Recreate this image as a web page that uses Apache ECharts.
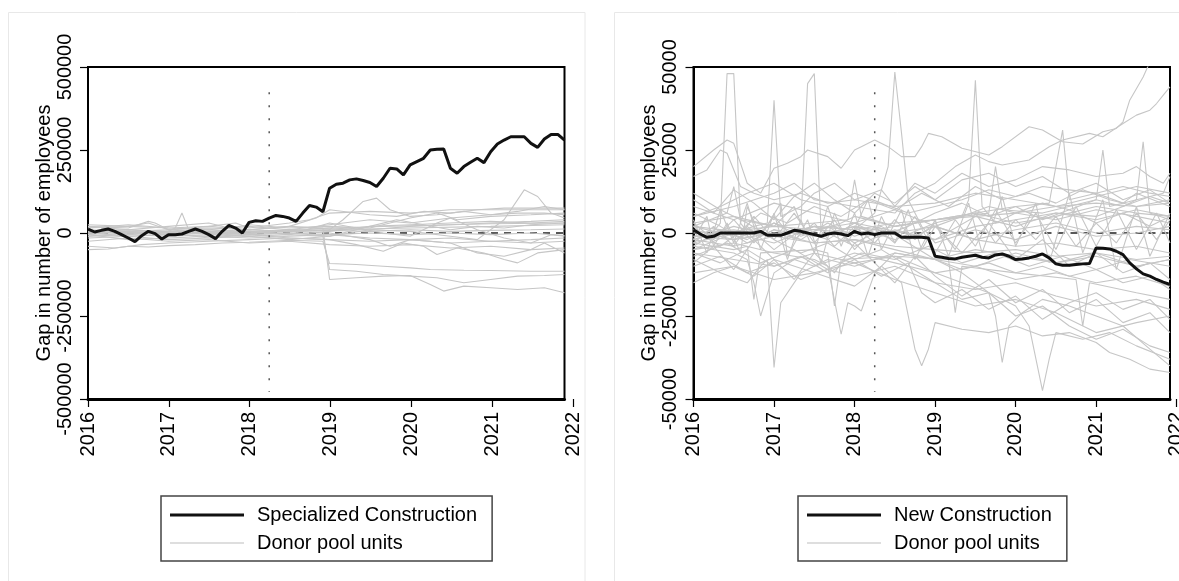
<!DOCTYPE html>
<html>
<head>
<meta charset="utf-8">
<script src="https://cdn.jsdelivr.net/npm/echarts@6/dist/echarts.min.js"></script>
<style>
html,body{margin:0;padding:0;background:#fff;}
#chart{width:1179px;height:581px;}
</style>
</head>
<body>
<div id="chart"></div>
<script>
// ---------- DATA ----------
const xTicks = [2016, 2017, 2018, 2019, 2020, 2021, 2022];
const yTicksLeft = [-500000, -250000, 0, 250000, 500000];
const yTicksRight = [-50000, -25000, 0, 25000, 50000];
const treatmentYear = 2018.25;
const leftTitle = 'Specialized Construction';
const rightTitle = 'New Construction';
const donorName = 'Donor pool units';
const yName = 'Gap in number of employees';

// monthly gaps, Jan 2016 .. Dec 2021
const specializedGap = [12000,3000,8000,12000,5000,-5000,-15000,-26000,-8000,5000,-2000,-18000,
  -5000,-5000,-3000,5000,12000,5000,-5000,-17000,5000,23000,15000,0,
  32000,37000,35000,45000,53000,50000,45000,35000,60000,83000,78000,64000,
  135000,147000,150000,160000,163000,158000,152000,140000,165000,195000,193000,175000,
  205000,215000,225000,250000,252000,253000,195000,180000,200000,213000,225000,212000,
  245000,268000,280000,290000,290000,290000,270000,258000,283000,297000,297000,280000];

const newConstructionGap = [1000,-300,-1300,-1000,0,0,0,0,0,0,500,-700,
  -700,-700,0,800,500,0,-500,-1000,-300,0,-300,-800,
  500,-300,0,-500,0,0,0,-1300,-1300,-1300,-1300,-1500,
  -7000,-7300,-7700,-7800,-7300,-7000,-6700,-7300,-7500,-6600,-6300,-7000,
  -8000,-7800,-7500,-7000,-6300,-7500,-9300,-9700,-9700,-9500,-9300,-9200,
  -4500,-4600,-4800,-5500,-6500,-9000,-10800,-12300,-13000,-14000,-14800,-15500];

// donor pool gaps: [month index, gap]
const leftDonors = [
  [[0,-40000],[4,-45000],[8,-35000],[12,-30000],[18,-25000],[24,-20000],[30,-15000],[36,-20000],[42,-25000],[48,-20000],[54,-30000],[60,-25000],[66,-30000],[71,-25000]],
  [[0,-50000],[3,-48000],[6,-40000],[9,-42000],[12,-38000],[16,-35000],[20,-30000],[24,-28000],[30,-22000],[35,-25000],[36,-92000],[40,-95000],[44,-100000],[48,-105000],[51,-110000],[56,-112000],[60,-113000],[66,-115000],[71,-115000]],
  [[0,20000],[6,15000],[9,35000],[10,30000],[12,10000],[18,15000],[24,10000],[30,20000],[35,15000],[36,-140000],[40,-135000],[44,-130000],[48,-128000],[51,-155000],[53,-175000],[56,-160000],[60,-165000],[64,-170000],[68,-165000],[71,-180000]],
  [[0,10000],[6,5000],[12,-5000],[18,0],[24,-10000],[30,-5000],[35,-10000],[36,-110000],[40,-115000],[44,-125000],[48,-130000],[52,-135000],[56,-150000],[60,-140000],[64,-130000],[68,-128000],[71,-125000]],
  [[0,5000],[6,0],[12,5000],[13,15000],[14,60000],[15,10000],[18,0],[24,5000],[30,10000],[36,5000],[42,20000],[48,25000],[54,30000],[60,35000],[66,30000],[71,35000]],
  [[0,15000],[6,20000],[9,30000],[12,10000],[18,20000],[22,30000],[24,15000],[30,30000],[33,40000],[36,60000],[42,65000],[48,60000],[54,70000],[60,70000],[66,70000],[71,70000]],
  [[0,25000],[6,20000],[12,15000],[18,20000],[24,10000],[30,20000],[34,45000],[36,70000],[42,55000],[46,50000],[50,65000],[54,60000],[58,70000],[62,75000],[66,75000],[71,75000]],
  [[0,-10000],[6,-5000],[12,-10000],[18,-5000],[24,0],[30,5000],[36,10000],[38,40000],[41,95000],[43,105000],[45,70000],[48,50000],[52,55000],[56,65000],[60,55000],[64,60000],[68,60000],[71,55000]],
  [[0,0],[6,-10000],[12,-5000],[18,-10000],[24,-5000],[30,0],[36,-10000],[42,10000],[48,5000],[54,-10000],[58,-20000],[62,40000],[65,130000],[67,110000],[69,60000],[71,45000]],
  [[0,-5000],[6,5000],[12,0],[18,-15000],[24,-5000],[30,-15000],[36,-20000],[40,-35000],[44,-55000],[47,-30000],[50,-40000],[52,-65000],[55,-45000],[59,-60000],[62,-80000],[64,-90000],[67,-60000],[71,-50000]],
  [[0,5000],[6,10000],[12,0],[18,5000],[24,0],[30,5000],[36,0],[42,-20000],[45,-40000],[48,-20000],[54,-30000],[58,-60000],[62,-70000],[66,-50000],[68,-30000],[71,-60000]],
  [[0,-15000],[6,-10000],[12,-20000],[18,-15000],[24,-10000],[30,-20000],[36,-10000],[42,20000],[46,40000],[50,25000],[54,10000],[58,20000],[62,15000],[66,25000],[71,30000]],
  [[0,0],[6,5000],[12,10000],[18,0],[24,5000],[30,-5000],[36,30000],[40,15000],[44,0],[48,-10000],[52,30000],[54,45000],[58,10000],[62,-15000],[66,-30000],[69,-5000],[71,-10000]],
  [[0,10000],[6,-5000],[12,5000],[18,10000],[24,0],[30,10000],[36,15000],[42,10000],[48,20000],[54,25000],[60,30000],[66,35000],[71,40000]],
  [[0,-5000],[6,-20000],[12,-15000],[18,-10000],[24,-15000],[30,-10000],[36,-5000],[42,-15000],[48,-20000],[54,-15000],[60,-25000],[66,-20000],[71,-15000]],
  [[0,20000],[6,10000],[12,20000],[18,30000],[21,15000],[24,25000],[30,15000],[36,20000],[42,15000],[48,45000],[52,60000],[55,40000],[60,50000],[66,55000],[71,60000]],
  [[0,-25000],[6,-15000],[12,-25000],[18,-20000],[24,-30000],[30,-25000],[36,-35000],[42,-40000],[48,-35000],[54,-45000],[60,-40000],[66,-50000],[71,-45000]],
  [[0,5000],[6,10000],[12,5000],[18,5000],[24,10000],[30,5000],[36,8000],[42,5000],[48,10000],[54,5000],[60,8000],[66,10000],[71,12000]],
  [[0,-10000],[6,0],[12,-5000],[18,0],[24,-5000],[30,0],[36,-5000],[42,0],[48,-5000],[54,0],[60,-5000],[66,0],[71,-8000]],
  [[0,15000],[6,25000],[12,15000],[18,10000],[24,20000],[30,10000],[36,25000],[42,40000],[48,30000],[54,45000],[60,55000],[64,65000],[68,80000],[71,70000]],
  [[0,0],[12,2000],[24,-2000],[36,15000],[48,22000],[60,28000],[71,30000]],
  [[0,3000],[12,-3000],[24,3000],[36,10000],[48,15000],[60,20000],[71,25000]]
];

const rightDonors = [
  [[0,20000],[3,25000],[5,28000],[6,27000],[8,15000],[10,12000],[12,19500],[14,21000],[16,23000],[17,25000],[20,23000],[22,19500],[24,25000],[25,26000],[27,28000],[29,26000],[31,23000],[33,23000],[34,26000],[35,30000],[37,29000],[40,25500],[44,23500],[46,26000],[50,32000],[52,31000],[55,27500],[58,26800],[61,30500],[63,31500],[64,33500],[65,40000],[67,47000],[69,56000],[71,60000]],
  [[0,17000],[2,19000],[4,25000],[5,24000],[7,14000],[9,12000],[12,10000],[16,12000],[20,9000],[24,10000],[30,8000],[33,15000],[36,12000],[40,18000],[44,14000],[48,16000],[52,20000],[56,19000],[60,17000],[64,18000],[66,20000],[68,17000],[70,15000],[71,18000]],
  [[0,5000],[6,8000],[12,12000],[15,15000],[18,10000],[24,8000],[30,6000],[33,12000],[36,15000],[39,20000],[42,23500],[44,21500],[46,20500],[50,22000],[53,26000],[55,28000],[59,30000],[61,29000],[64,33000],[66,35500],[68,37000],[69,39000],[70,41500],[71,44000]],
  [[0,2000],[2,-2000],[4,3000],[5,48000],[6,48000],[7,3000],[9,-2000],[12,1000],[18,-1000],[24,2000],[30,0],[36,2000],[42,-2000],[48,1000],[54,3000],[60,0],[66,2000],[71,1000]],
  [[0,-3000],[6,0],[9,2000],[11,3000],[12,40000],[13,5000],[16,8000],[18,12000],[21,15000],[24,10000],[28,13000],[30,8000],[36,9000],[42,12000],[48,10000],[54,8000],[60,11000],[66,14000],[71,12000]],
  [[0,-8000],[4,-12000],[8,-15000],[10,-10000],[11,-8000],[12,-40500],[13,-21000],[16,-12000],[20,-8000],[24,-10000],[30,-6000],[36,-8000],[42,-10000],[48,-6000],[54,-9000],[60,-7000],[66,-10000],[71,-8000]],
  [[0,3000],[6,5000],[12,2000],[15,8000],[16,3000],[17,45000],[18,48000],[19,1000],[22,3000],[24,5000],[30,2000],[36,4000],[42,6000],[48,3000],[54,5000],[60,8000],[66,6000],[71,5000]],
  [[0,-2000],[6,2000],[12,-1000],[18,2000],[24,1000],[27,6000],[29,20000],[30,48500],[31,30000],[32,10000],[34,2000],[36,-3000],[42,1000],[48,-2000],[54,2000],[60,-1000],[66,0],[71,2000]],
  [[0,1000],[6,-2000],[12,3000],[18,-1000],[24,2000],[30,-2000],[36,3000],[40,5000],[41,10000],[42,46000],[43,8000],[45,3000],[48,6000],[54,4000],[60,7000],[66,5000],[71,3000]],
  [[0,-1000],[12,2000],[24,0],[36,4000],[42,6000],[48,8000],[53,9000],[55,31000],[56,10000],[60,12000],[64,9000],[66,12000],[71,8000]],
  [[0,2000],[12,-1000],[24,3000],[36,-2000],[42,2000],[48,4000],[54,6000],[60,5000],[64,8000],[66,10000],[67,27500],[68,6000],[71,4000]],
  [[0,-4000],[6,-6000],[8,-8000],[9,-15000],[10,-25000],[11,-18500],[12,-12000],[15,-8000],[18,-10000],[24,-6000],[30,-9000],[36,-12000],[42,-10000],[48,-14000],[54,-12000],[60,-15000],[66,-13000],[71,-16000]],
  [[0,-5000],[6,-3000],[12,-6000],[18,-8000],[20,-10000],[22,-30500],[23,-21000],[24,-22000],[25,-23500],[27,-12000],[30,-6000],[36,-8000],[42,-5000],[48,-7000],[54,-9000],[60,-6000],[66,-10000],[71,-8000]],
  [[0,-12000],[6,-10000],[12,-14000],[18,-12000],[24,-16000],[28,-10000],[31,-15000],[33,-35000],[34,-40000],[35,-35000],[36,-27000],[40,-29000],[44,-30000],[48,-28000],[52,-31000],[56,-30000],[60,-33000],[62,-36000],[65,-38000],[68,-41000],[71,-42000]],
  [[0,-2000],[6,-4000],[12,-1000],[18,-3000],[24,-2000],[30,-5000],[36,-8000],[40,-12000],[44,-18000],[45,-25000],[46,-39000],[47,-28000],[49,-24000],[52,-20000],[56,-22000],[60,-25000],[64,-28000],[68,-35000],[71,-40000]],
  [[0,-6000],[6,-8000],[12,-10000],[18,-6000],[24,-9000],[30,-7000],[36,-12000],[40,-15000],[44,-18000],[48,-22000],[50,-28000],[52,-47500],[53,-38000],[54,-30000],[58,-32000],[62,-30000],[66,-34000],[71,-38000]],
  [[0,-15000],[3,-12000],[6,-10000],[9,-13000],[12,-8000],[18,-12000],[24,-9000],[30,-14000],[36,-18000],[42,-22000],[48,-20000],[54,-24000],[60,-30000],[66,-27000],[71,-25000]],
  [[0,-10000],[4,-7000],[8,-12000],[12,-9000],[16,-14000],[20,-11000],[24,-13000],[30,-10000],[36,-15000],[42,-17000],[48,-15000],[54,-19000],[60,-22000],[66,-20000],[71,-23000]],
  [[0,3000],[3,-2000],[6,4000],[9,-3000],[12,5000],[15,-2000],[18,3000],[21,-4000],[24,2000],[27,-3000],[30,4000],[33,-2000],[36,3000],[39,-5000],[42,6000],[45,-3000],[48,4000],[51,-2000],[54,5000],[57,-4000],[60,3000],[63,-3000],[66,6000],[69,-2000],[71,4000]],
  [[0,-3000],[3,2000],[6,-4000],[9,5000],[12,-2000],[15,6000],[18,-3000],[21,4000],[24,-5000],[27,2000],[30,-3000],[33,5000],[36,-6000],[39,4000],[42,-4000],[45,7000],[48,-3000],[51,6000],[54,-5000],[57,8000],[60,-4000],[63,7000],[66,-5000],[69,6000],[71,-3000]],
  [[0,0],[6,1000],[12,-1000],[18,2000],[24,1000],[30,3000],[36,4000],[42,5000],[48,6000],[54,8000],[60,9000],[66,8000],[71,10000]],
  [[0,-1000],[6,-2000],[12,0],[18,-3000],[24,-2000],[30,-4000],[36,-5000],[42,-6000],[48,-5000],[54,-7000],[60,-6000],[66,-8000],[71,-7000]],
  [[0,5000],[4,8000],[8,12000],[12,15000],[16,10000],[20,8000],[24,12000],[28,9000],[32,6000],[36,8000],[40,10000],[44,13000],[48,11000],[52,14000],[56,13000],[60,12000],[64,14000],[68,12000],[71,11000]],
  [[0,-5000],[6,0],[12,-3000],[18,2000],[24,-4000],[30,1000],[36,-2000],[42,5000],[48,2000],[54,6000],[60,4000],[66,7000],[71,5000]],
  [[0,2000],[6,-1000],[10,6000],[14,3000],[18,8000],[22,5000],[26,10000],[30,7000],[34,12000],[38,8000],[42,14000],[46,10000],[50,12000],[54,9000],[58,13000],[62,10000],[66,8000],[71,9000]],
  [[0,-7000],[5,-3000],[10,-9000],[15,-5000],[20,-11000],[25,-6000],[30,-8000],[35,-4000],[40,-9000],[45,-6000],[50,-10000],[55,-7000],[60,-11000],[65,-8000],[71,-10000]],
  [[0,1000],[4,-4000],[8,2000],[12,-5000],[16,1000],[20,-2000],[24,3000],[28,-1000],[32,2000],[36,6000],[40,9000],[44,5000],[48,8000],[52,4000],[56,7000],[60,3000],[64,6000],[68,2000],[71,5000]],
  [[0,8000],[6,4000],[12,9000],[18,6000],[24,3000],[30,7000],[36,2000],[42,-2000],[48,-4000],[54,-3000],[60,-5000],[66,-4000],[71,-6000]],
  [[0,4000],[2,-6000],[4,7000],[6,-3000],[8,9000],[10,-5000],[12,6000],[14,-8000],[16,4000],[18,-6000],[20,8000],[22,-4000],[24,6000],[26,-7000],[28,5000],[30,-3000],[32,7000],[34,-5000],[36,2000],[40,-6000],[44,3000],[48,-8000],[52,-2000],[56,-10000],[60,-6000],[64,-12000],[68,-9000],[71,-14000]],
  [[0,-9000],[3,-4000],[6,-11000],[9,-2000],[12,-8000],[15,-14000],[18,-6000],[21,-12000],[24,-3000],[27,-9000],[30,-15000],[33,-7000],[36,-13000],[40,-19000],[44,-14000],[48,-21000],[52,-17000],[56,-24000],[60,-20000],[64,-27000],[68,-24000],[71,-30000]],
  [[0,10000],[3,6000],[6,13000],[9,9000],[12,4000],[15,11000],[18,15000],[21,10000],[24,6000],[27,12000],[30,9000],[33,14000],[36,10000],[40,16000],[44,18000],[48,14000],[52,17000],[56,12000],[60,15000],[64,10000],[68,13000],[71,9000]],
  [[0,-2000],[2,5000],[3,-4000],[5,3000],[7,-6000],[8,8000],[10,-1000],[13,9000],[14,-7000],[17,4000],[19,-9000],[21,6000],[23,-3000],[26,10000],[28,-5000],[31,7000],[33,-8000],[36,4000],[38,-7000],[41,9000],[43,-6000],[46,11000],[48,-4000],[51,9000],[53,-9000],[56,12000],[58,-6000],[61,10000],[63,-11000],[66,8000],[68,-7000],[71,6000]],
  [[0,6000],[4,2000],[8,-3000],[12,1000],[16,-2000],[20,3000],[24,-1000],[28,2000],[32,-3000],[36,-8000],[40,-11000],[44,-9000],[48,-12000],[52,-10000],[56,-13000],[60,-11000],[64,-15000],[68,-13000],[71,-17000]],
  [[0,-4000],[4,1000],[8,-2000],[12,3000],[16,-1000],[20,2000],[24,-3000],[28,1000],[32,-2000],[36,2000],[40,5000],[44,8000],[48,6000],[52,9000],[56,7000],[60,10000],[64,8000],[68,11000],[71,9000]],
  [[0,12000],[4,7000],[8,3000],[12,-2000],[16,-6000],[20,-3000],[24,-8000],[28,-5000],[32,-10000],[36,-15000],[40,-20000],[44,-18000],[48,-25000],[52,-22000],[56,-28000],[60,-32000],[64,-29000],[68,-34000],[71,-36000]],
  [[0,-6000],[4,-9000],[8,-5000],[12,-10000],[16,-7000],[20,-12000],[24,-8000],[28,-13000],[32,-9000],[34,-18000],[36,-21000],[40,-17000],[44,-23000],[48,-19000],[52,-26000],[56,-21000],[60,-18000],[64,-23000],[68,-20000],[71,-26000]],
  [[0,2000],[5,6000],[6,14000],[7,4000],[12,2000],[18,3000],[23,4000],[24,16000],[25,5000],[30,2000],[36,4000],[44,6000],[45,20000],[46,7000],[52,6000],[60,10000],[61,25000],[62,8000],[66,10000],[70,12000],[71,17000]],
  [[0,-3000],[6,-5000],[8,-4000],[9,-20000],[10,-6000],[18,-5000],[20,-6000],[21,-22000],[22,-8000],[30,-7000],[38,-8000],[39,-24000],[40,-10000],[48,-12000],[57,-14000],[58,-28000],[59,-15000],[66,-18000],[71,-20000]]
];

// ---------- CHART ----------
const FONT = 'Liberation Sans, Arial, Helvetica, sans-serif';
const GREY = '#c6c6c6';
const xMin = xTicks[0];
const xEnd = xTicks[0] + (specializedGap.length - 1) / 12;
const monthX = m => xMin + m / 12;

const panels = [
  {left: 88, width: 476.5, labelWidth: 485, title: leftTitle, gap: specializedGap, donors: leftDonors, ticks: yTicksLeft, legendLeft: 161},
  {left: 693.5, width: 476.5, labelWidth: 483, title: rightTitle, gap: newConstructionGap, donors: rightDonors, ticks: yTicksRight, legendLeft: 798}
];
const TOP = 67, HEIGHT = 332;

const grid = [], xAxis = [], yAxis = [], series = [], legend = [];
panels.forEach((p, k) => {
  const gMain = 2 * k, gLab = 2 * k + 1;
  grid.push({left: p.left, top: TOP, width: p.width, height: HEIGHT, show: true, borderColor: '#000', borderWidth: 2,
    backgroundColor: 'transparent', outerBoundsMode: 'none', containLabel: false});
  grid.push({left: p.left, top: TOP, width: p.labelWidth, height: HEIGHT, show: false, outerBoundsMode: 'none', containLabel: false});
  const yMin = p.ticks[0], yMax = p.ticks[p.ticks.length - 1], yInt = p.ticks[1] - p.ticks[0];
  xAxis.push({type: 'value', gridIndex: gMain, min: xMin, max: xEnd, interval: 1,
    axisLine: {show: true, onZero: false, lineStyle: {color: '#000', width: 3}},
    axisTick: {show: false}, axisLabel: {show: false}, splitLine: {show: false}});
  xAxis.push({type: 'value', gridIndex: gLab, min: xMin, max: xTicks[xTicks.length - 1], interval: 1,
    axisLine: {show: false, onZero: false},
    axisTick: {show: true, length: 8, lineStyle: {color: '#000', width: 1.2}},
    axisLabel: {show: true, rotate: 90, margin: 13, fontSize: 20, color: '#000', fontFamily: FONT, formatter: v => String(v), hideOverlap: false},
    splitLine: {show: false}});
  yAxis.push({type: 'value', gridIndex: gMain, min: yMin, max: yMax, interval: yInt,
    name: yName, nameLocation: 'middle', nameRotate: 90, nameGap: 33,
    nameTextStyle: {fontSize: 20, color: '#000', fontFamily: FONT},
    axisLine: {show: true, onZero: false, lineStyle: {color: '#000', width: 2}},
    axisTick: {show: true, length: 8, lineStyle: {color: '#000', width: 1.2}},
    axisLabel: {show: true, rotate: 90, margin: 13, fontSize: 20, color: '#000', fontFamily: FONT, formatter: v => String(v)},
    splitLine: {show: false}});
  yAxis.push({type: 'value', gridIndex: gLab, min: 0, max: 1, show: false});

  // zero reference line
  series.push({type: 'line', xAxisIndex: gMain, yAxisIndex: gMain, silent: true, symbol: 'none',
    data: [[xMin, 0], [xEnd, 0]], lineStyle: {color: '#222', width: 1.3, type: [7, 6]}, z: 1});
  // donors
  p.donors.forEach(d => {
    series.push({type: 'line', name: donorName, xAxisIndex: gMain, yAxisIndex: gMain, symbol: 'none', silent: true,
      data: d.map(([m, v]) => [monthX(m), v]), lineStyle: {color: GREY, width: 1.1}, itemStyle: {color: GREY}, z: 2});
  });
  // treatment line
  series.push({type: 'line', xAxisIndex: gMain, yAxisIndex: gMain, silent: true, symbol: 'none',
    data: [[treatmentYear, yMax * 0.848], [treatmentYear, yMin * 0.958]],
    lineStyle: {color: '#555', width: 1.5, type: [2, 11]}, z: 3});
  // treated unit
  series.push({type: 'line', name: p.title, xAxisIndex: gMain, yAxisIndex: gMain, symbol: 'none', silent: true,
    data: p.gap.map((v, i) => [monthX(i), v]), lineStyle: {color: '#111', width: 3}, itemStyle: {color: '#111'}, z: 5});

  legend.push({
    data: [
      {name: p.title, icon: 'path://M0,0h74v3h-74z', itemStyle: {color: '#111', borderWidth: 0}},
      {name: donorName, icon: 'path://M0,0h74v1.2h-74z', itemStyle: {color: '#bdbdbd', borderWidth: 0}}
    ],
    left: p.legendLeft, top: 496, orient: 'vertical', symbolKeepAspect: true,
    selectedMode: false, borderColor: '#444', borderWidth: 1.5, borderRadius: 0,
    padding: [9, 15, 8, 9], itemGap: 8, itemWidth: 74, itemHeight: 20,
    textStyle: {fontSize: 20, color: '#000', fontFamily: FONT, padding: [0, 0, 0, 8]}});
});

const chart = echarts.init(document.getElementById('chart'), null, {renderer: 'canvas'});
chart.setOption({
  backgroundColor: '#fff',
  animation: false,
  graphic: [
    {type: 'rect', shape: {x: 8.5, y: 12.5, width: 576.5, height: 600}, style: {fill: 'none', stroke: '#e8e8e8', lineWidth: 1}, silent: true, z: -10},
    {type: 'rect', shape: {x: 614.5, y: 12.5, width: 600, height: 600}, style: {fill: 'none', stroke: '#e8e8e8', lineWidth: 1}, silent: true, z: -10}
  ],
  grid, xAxis, yAxis, series, legend
});
</script>
</body>
</html>
